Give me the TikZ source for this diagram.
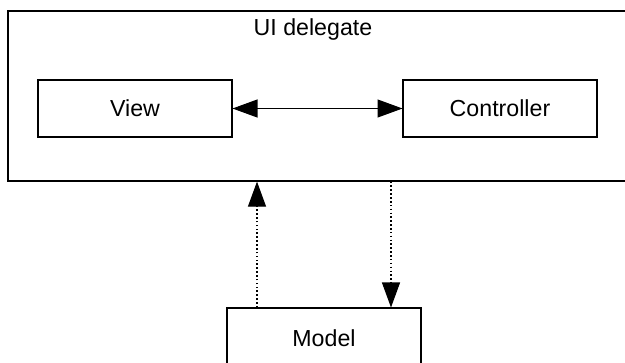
\documentclass[tikz,border=0pt]{standalone}
\usepackage{fontspec}
\setmainfont{Liberation Sans}
\usetikzlibrary{arrows.meta,positioning}

\begin{document}
\begin{tikzpicture}[
  font=\fontsize{13.2}{16}\selectfont,     % Arial-like labels
  x=0.02cm, y=-0.02cm,                      % one unit = one pixel of the layout
  box/.style   = {draw,
                  line width=0.6pt,
                  minimum width=3.88cm,
                  minimum height=1.14cm,
                  inner sep=0pt},
  arrow/.style = {line width=0.6pt,
                  -{Triangle[length=0.5cm,width=0.36cm]}},
  dep/.style   = {arrow, dash pattern=on 0.9pt off 1.3pt}
]
\useasboundingbox (0,0) rectangle (625,362);

\node[draw, line width=0.7pt, minimum width=12.64cm, minimum height=3.4cm,
      inner sep=0pt] (ui) at (324,96) {};
\node (title) at (313,30) {UI delegate};

\node[box] (view) at (135,108.5) {View};
\node[box] (ctrl) at (500,108.5) {Controller};

\node[box, minimum height=1.2cm] (model) at (324,338) {Model};

\coordinate (up)   at (257,0);
\coordinate (down) at (391,0);

\draw[arrow, {Triangle[length=0.5cm,width=0.36cm]}-{Triangle[length=0.5cm,width=0.36cm]}]
  (view) -- (ctrl);
\draw[dep] (up |- model.north) -- (up |- ui.south);
\draw[dep] (down |- ui.south) -- (down |- model.north);

\end{tikzpicture}
\end{document}
